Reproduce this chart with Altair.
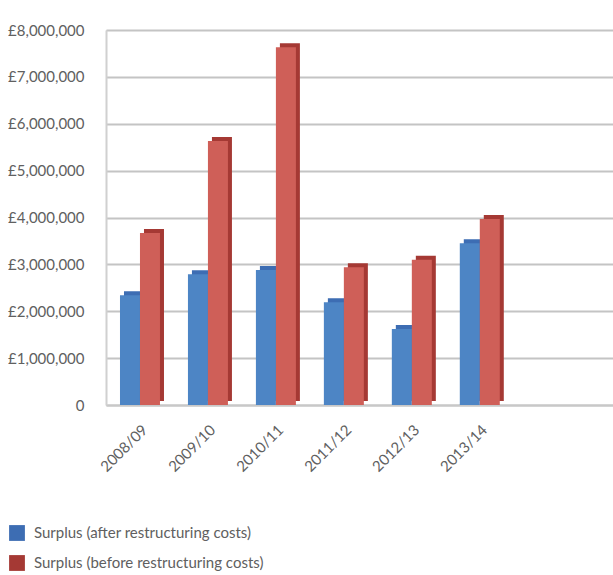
import altair as alt
import pandas as pd

years = ["2008/09", "2009/10", "2010/11", "2011/12", "2012/13", "2013/14"]
after_costs = [2340000, 2790000, 2880000, 2190000, 1620000, 3450000]
before_costs = [3670000, 5630000, 7630000, 2940000, 3100000, 3970000]
series_names = ["Surplus (after restructuring costs)", "Surplus (before restructuring costs)"]
y_ticks = [0, 1000000, 2000000, 3000000, 4000000, 5000000, 6000000, 7000000, 8000000]

rows = []
for i, y in enumerate(years):
    rows.append({"year": y, "series": series_names[0], "value": after_costs[i]})
    rows.append({"year": y, "series": series_names[1], "value": before_costs[i]})
df = pd.DataFrame(rows)

FONT = "Lato"
GRAY = "#606060"

xscale = alt.Scale(paddingInner=0, paddingOuter=0.73, align=0)
offscale = alt.Scale(domain=series_names, paddingInner=0, paddingOuter=0.7)
yscale = alt.Scale(domain=[0, 8000000], nice=False)

x_enc = alt.X("year:N", sort=years, scale=xscale,
              axis=alt.Axis(title=None, labelAngle=-45, labelFontSize=15, labelColor=GRAY,
                            labelFont=FONT, labelPadding=17, ticks=False,
                            domainColor="#c8c8c8", domainWidth=2))
y_enc = alt.Y("value:Q", scale=yscale,
              axis=alt.Axis(title=None, values=y_ticks, labelFontSize=15, labelColor=GRAY,
                            labelFont=FONT, labelPadding=22, ticks=False,
                            gridColor="#c4c4c4", gridWidth=2,
                            domainColor="#d0d0d0", domainWidth=2,
                            labelExpr="datum.value == 0 ? '0' : '£' + format(datum.value, ',.0f')"))

shade_color = alt.Color("series:N", scale=alt.Scale(domain=series_names, range=["#3d6db3", "#a53934"]),
                        legend=alt.Legend(title=None, orient="none", legendX=-97, legendY=495,
                                          direction="vertical", symbolType="square", symbolSize=250,
                                          symbolStrokeWidth=0, labelFontSize=15, labelColor=GRAY,
                                          labelFont=FONT, rowPadding=14, labelOffset=9, padding=0,
                                          labelLimit=400))

# darker "side/top" faces, offset up-right of the front faces (pseudo 3D)
shade_after = alt.Chart(df).transform_filter(alt.datum.series == series_names[0]).mark_bar(
    size=20, xOffset=-6, yOffset=-4, y2Offset=-2).encode(x=x_enc, y=y_enc, color=shade_color)
shade_before = alt.Chart(df).transform_filter(alt.datum.series == series_names[1]).mark_bar(
    size=20, xOffset=14, yOffset=-4, y2Offset=-2).encode(x=x_enc, y=y_enc, color=shade_color)

bars = alt.Chart(df).mark_bar(size=20).encode(
    x=x_enc,
    xOffset=alt.XOffset("series:N", scale=offscale),
    y=y_enc,
    color=alt.condition(alt.datum.series == series_names[0], alt.value("#4d85c5"), alt.value("#cf5f58")),
)

chart = alt.layer(shade_after, shade_before, bars).properties(
    width=507, height=375,
    autosize=alt.AutoSizeParams(type="none"),
    padding={"left": 106, "top": 30, "right": 0, "bottom": 170},
).configure_view(stroke=None).configure(background="white")

chart.save("out.html", embed_options={"renderer": "svg", "actions": False})
